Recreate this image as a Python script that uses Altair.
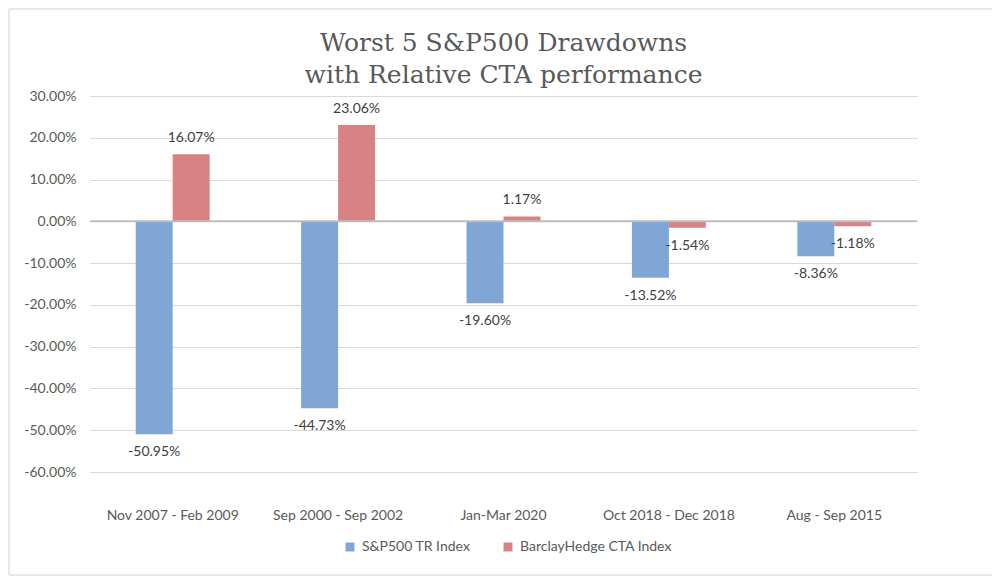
import altair as alt
import pandas as pd

periods = ["Nov 2007 - Feb 2009", "Sep 2000 - Sep 2002", "Jan-Mar 2020",
           "Oct 2018 - Dec 2018", "Aug - Sep 2015"]
series_names = ["S&P500 TR Index", "BarclayHedge CTA Index"]
sp500 = [-0.5095, -0.4473, -0.1960, -0.1352, -0.0836]
cta = [0.1607, 0.2306, 0.0117, -0.0154, -0.0118]
y_ticks = [-0.6, -0.5, -0.4, -0.3, -0.2, -0.1, 0.0, 0.1, 0.2, 0.3]
colors = ["#7FA6D5", "#D98283"]

rows = []
for p, a, b in zip(periods, sp500, cta):
    rows.append({"period": p, "series": series_names[0], "value": a})
    rows.append({"period": p, "series": series_names[1], "value": b})
df = pd.DataFrame(rows)

W, H = 827, 376
FONT = "Lato"
GRAY = "#595959"

x_enc = alt.X("period:N", sort=periods,
              scale=alt.Scale(paddingInner=0.553, paddingOuter=0.2765),
              axis=alt.Axis(title=None, orient="bottom", labelFont=FONT, labelFontSize=14,
                            labelColor=GRAY, labelPadding=36, ticks=False, domain=False,
                            labelAngle=0, grid=False))
y_scale = alt.Scale(domain=[-0.6, 0.3], nice=False, zero=True)

base = alt.Chart(df).transform_calculate(
    lbl="replace(format(datum.value, '.2%'), '\u2212', '-')"
)

bars = base.mark_bar(clip=False).encode(
    x=x_enc,
    xOffset=alt.XOffset("series:N", sort=series_names),
    y=alt.Y("value:Q", scale=y_scale,
            axis=alt.Axis(title=None, values=y_ticks, format=".2%",
                          labelExpr="replace(datum.label, '\u2212', '-')",
                          labelFont=FONT, labelFontSize=14, labelColor=GRAY, labelPadding=14,
                          ticks=False, domain=False, grid=True, gridColor="#d9d9d9",
                          gridWidth=1)),
    color=alt.Color("series:N", sort=series_names,
                    scale=alt.Scale(domain=series_names, range=colors),
                    legend=alt.Legend(title=None, orient="none", direction="horizontal",
                                      legendX=253, legendY=444, symbolType="square",
                                      symbolSize=80, symbolStrokeWidth=0,
                                      labelFont=FONT, labelFontSize=14, labelColor=GRAY,
                                      columnPadding=30, labelOffset=5)),
)

zero = alt.Chart(pd.DataFrame({"z": [0.0]})).mark_rule(color="#bdbdbd", strokeWidth=2).encode(
    y=alt.Y("z:Q", scale=y_scale)
)

pos_labels = base.transform_filter("datum.value >= 0").mark_text(
    baseline="bottom", dy=-9, font=FONT, fontSize=14, color="#404040"
).encode(
    x=alt.X("period:N", sort=periods),
    xOffset=alt.XOffset("series:N", sort=series_names),
    y=alt.Y("value:Q", scale=y_scale),
    text=alt.Text("lbl:N"),
)

neg_labels = base.transform_filter("datum.value < 0").mark_text(
    baseline="top", dy=11, font=FONT, fontSize=14, color="#404040"
).encode(
    x=alt.X("period:N", sort=periods),
    xOffset=alt.XOffset("series:N", sort=series_names),
    y=alt.Y("value:Q", scale=y_scale),
    text=alt.Text("lbl:N"),
)

frame = alt.Chart(pd.DataFrame({"f": [0]})).mark_rect(
    fill=None, stroke="#d0d0d0", strokeWidth=1, clip=False
).encode(
    x=alt.value(-81), x2=alt.value(903), y=alt.value(-87), y2=alt.value(479)
)

chart = alt.layer(frame, bars, zero, pos_labels, neg_labels).properties(
    width=W, height=H,
    padding={"left": 82, "top": 88, "right": 75, "bottom": 108},
    autosize=alt.AutoSizeParams(type="none"),
    background="white",
    title=alt.TitleParams(
        text=["Worst 5 S&P500 Drawdowns", "with Relative CTA performance"],
        font="DejaVu Serif", fontSize=25, fontWeight="normal", color=GRAY,
        anchor="middle", lineHeight=32, offset=12, dy=91,
    ),
).configure_view(strokeWidth=0, stroke="transparent")

chart.save("out.html", embed_options={"renderer": "svg", "actions": False})
